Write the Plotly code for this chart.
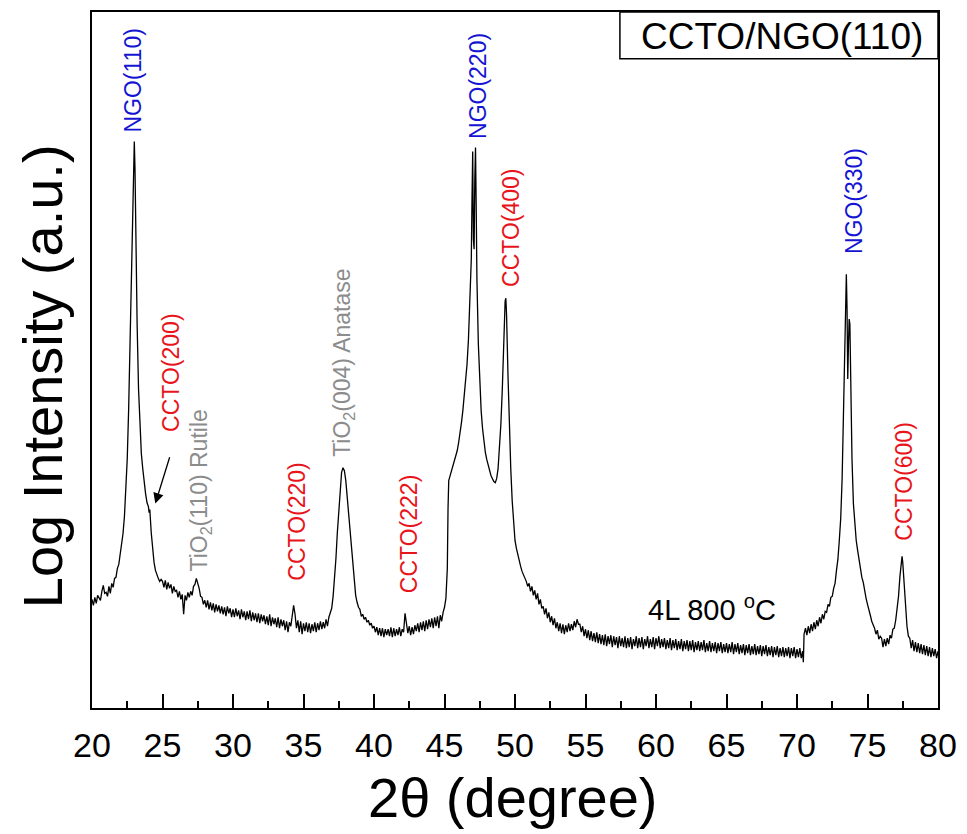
import plotly.graph_objects as go

# ---------------- data ----------------
two_theta = [
    20.0, 20.1, 20.2, 20.3, 20.4, 20.5, 20.6, 20.7, 20.8, 20.9,
    21.0, 21.1, 21.2, 21.3, 21.4, 21.5, 21.6, 21.7, 21.8, 21.9,
    22.0, 22.1, 22.2, 22.3, 22.4, 22.5, 22.6, 22.7, 22.8, 22.9,
    22.95, 23.0, 23.05,
    23.1, 23.2, 23.3, 23.4, 23.5, 23.6, 23.7, 23.8, 23.9,
    24.0, 24.05, 24.1, 24.2, 24.3, 24.4, 24.5, 24.6, 24.7, 24.8, 24.9,
    25.0, 25.1, 25.2, 25.3, 25.4, 25.5, 25.6, 25.7, 25.8, 25.9,
    26.0, 26.1, 26.2, 26.3, 26.4, 26.5, 26.6, 26.7, 26.8, 26.9,
    27.0, 27.1, 27.2, 27.3, 27.4, 27.5, 27.6, 27.7, 27.8, 27.9,
    28.0, 28.1, 28.2, 28.3, 28.4, 28.5, 28.6, 28.7, 28.8, 28.9,
    29.0, 29.1, 29.2, 29.3, 29.4, 29.5, 29.6, 29.7, 29.8, 29.9,
    30.0, 30.1, 30.2, 30.3, 30.4, 30.5, 30.6, 30.7, 30.8, 30.9,
    31.0, 31.1, 31.2, 31.3, 31.4, 31.5, 31.6, 31.7, 31.8, 31.9,
    32.0, 32.1, 32.2, 32.3, 32.4, 32.5, 32.6, 32.7, 32.8, 32.9,
    33.0, 33.1, 33.2, 33.3, 33.4, 33.5, 33.6, 33.7, 33.8, 33.9,
    34.0, 34.1, 34.2, 34.3, 34.4, 34.5, 34.6, 34.7, 34.8, 34.9,
    35.0, 35.1, 35.2, 35.3, 35.4, 35.5, 35.6, 35.7, 35.8, 35.9,
    36.0, 36.1, 36.2, 36.3, 36.4, 36.5, 36.6, 36.7, 36.8, 36.9,
    37.0, 37.1, 37.2, 37.3, 37.4, 37.5, 37.6, 37.7, 37.8, 37.9,
    38.0, 38.1, 38.2, 38.3, 38.4, 38.5, 38.6, 38.7, 38.8, 38.9,
    39.0, 39.1, 39.2, 39.3, 39.4, 39.5, 39.6, 39.7, 39.8, 39.9,
    40.0, 40.1, 40.2, 40.3, 40.4, 40.5, 40.6, 40.7, 40.8, 40.9,
    41.0, 41.1, 41.2, 41.3, 41.4, 41.5, 41.6, 41.7, 41.8, 41.9,
    42.0, 42.1, 42.2, 42.3, 42.4, 42.5, 42.6, 42.7, 42.8, 42.9,
    43.0, 43.1, 43.2, 43.3, 43.4, 43.5, 43.6, 43.7, 43.8, 43.9,
    44.0, 44.1, 44.2, 44.3, 44.4, 44.5, 44.6, 44.7, 44.8, 44.9,
    45.0, 45.1, 45.2, 45.25, 45.3, 45.4, 45.5, 45.6, 45.7, 45.8, 45.9,
    46.0, 46.1, 46.2, 46.3, 46.4, 46.5, 46.6, 46.7, 46.8, 46.9,
    46.95, 47.0, 47.05, 47.1, 47.15, 47.2, 47.25, 47.3, 47.4, 47.5, 47.6, 47.7, 47.8, 47.9,
    48.0, 48.1, 48.2, 48.3, 48.4, 48.5, 48.6, 48.7, 48.8, 48.9,
    49.0, 49.1, 49.2, 49.3, 49.35, 49.4, 49.5, 49.6, 49.7, 49.8, 49.9,
    50.0, 50.1, 50.2, 50.3, 50.4, 50.5, 50.6, 50.7, 50.8, 50.9,
    51.0, 51.1, 51.2, 51.3, 51.4, 51.5, 51.6, 51.7, 51.8, 51.9,
    52.0, 52.1, 52.2, 52.3, 52.4, 52.5, 52.6, 52.7, 52.8, 52.9,
    53.0, 53.1, 53.2, 53.3, 53.4, 53.5, 53.6, 53.7, 53.8, 53.9,
    54.0, 54.1, 54.2, 54.3, 54.4, 54.5, 54.6, 54.7, 54.8, 54.9,
    55.0, 55.1, 55.2, 55.3, 55.4, 55.5, 55.6, 55.7, 55.8, 55.9,
    56.0, 56.1, 56.2, 56.3, 56.4, 56.5, 56.6, 56.7, 56.8, 56.9,
    57.0, 57.1, 57.2, 57.3, 57.4, 57.5, 57.6, 57.7, 57.8, 57.9,
    58.0, 58.1, 58.2, 58.3, 58.4, 58.5, 58.6, 58.7, 58.8, 58.9,
    59.0, 59.1, 59.2, 59.3, 59.4, 59.5, 59.6, 59.7, 59.8, 59.9,
    60.0, 60.1, 60.2, 60.3, 60.4, 60.5, 60.6, 60.7, 60.8, 60.9,
    61.0, 61.1, 61.2, 61.3, 61.4, 61.5, 61.6, 61.7, 61.8, 61.9,
    62.0, 62.1, 62.2, 62.3, 62.4, 62.5, 62.6, 62.7, 62.8, 62.9,
    63.0, 63.1, 63.2, 63.3, 63.4, 63.5, 63.6, 63.7, 63.8, 63.9,
    64.0, 64.1, 64.2, 64.3, 64.4, 64.5, 64.6, 64.7, 64.8, 64.9,
    65.0, 65.1, 65.2, 65.3, 65.4, 65.5, 65.6, 65.7, 65.8, 65.9,
    66.0, 66.1, 66.2, 66.3, 66.4, 66.5, 66.6, 66.7, 66.8, 66.9,
    67.0, 67.1, 67.2, 67.3, 67.4, 67.5, 67.6, 67.7, 67.8, 67.9,
    68.0, 68.1, 68.2, 68.3, 68.4, 68.5, 68.6, 68.7, 68.8, 68.9,
    69.0, 69.1, 69.2, 69.3, 69.4, 69.5, 69.6, 69.7, 69.8, 69.9,
    70.0, 70.1, 70.2, 70.3, 70.4, 70.45, 70.5, 70.6, 70.7, 70.8, 70.9,
    71.0, 71.1, 71.2, 71.3, 71.4, 71.5, 71.6, 71.7, 71.8, 71.9,
    72.0, 72.1, 72.2, 72.3, 72.4, 72.5, 72.6, 72.7, 72.8, 72.9,
    73.0, 73.1, 73.2, 73.3, 73.4, 73.45, 73.5, 73.55, 73.6, 73.65, 73.7, 73.75, 73.8, 73.9,
    74.0, 74.1, 74.2, 74.3, 74.4, 74.5, 74.6, 74.7, 74.8, 74.9,
    75.0, 75.1, 75.2, 75.3, 75.4, 75.5, 75.6, 75.7, 75.8, 75.9,
    76.0, 76.1, 76.2, 76.3, 76.4, 76.5, 76.6, 76.7, 76.8, 76.9,
    77.0, 77.1, 77.2, 77.3, 77.4, 77.45, 77.5, 77.6, 77.7, 77.8,
    77.9, 78.0, 78.1, 78.2, 78.3, 78.4, 78.5, 78.6, 78.7, 78.8, 78.9,
    79.0, 79.1, 79.2, 79.3, 79.4, 79.5, 79.6, 79.7, 79.8, 79.9, 80.0,
]

log_intensity = [
    109, 103, 111, 105, 113, 111, 108, 117, 123, 115,
    116, 112, 122, 115, 125, 121, 130, 131, 140, 144,
    153, 163, 175, 192, 215, 250, 300, 370, 450, 520,
    550, 568, 540,
    480, 385, 320, 278, 255, 240, 226, 215, 206,
    202, 196, 199, 176, 158, 146, 138, 133, 130, 127, 129,
    127, 121, 128, 119, 126, 120, 124, 115, 122, 117,
    118, 111, 117, 109, 114, 94, 113, 108, 116, 111,
    117, 113, 122, 124, 130, 125, 120, 112, 111, 104,
    108, 101, 108, 99, 106, 98, 105, 96, 104, 97,
    103, 95, 102, 94, 101, 92, 102, 95, 100, 91,
    99, 91, 100, 92, 98, 89, 99, 91, 97, 88,
    97, 89, 98, 87, 96, 88, 95, 86, 95, 85,
    94, 87, 93, 84, 92, 83, 94, 82, 91, 84,
    90, 81, 91, 80, 89, 82, 88, 78, 87, 76,
    86, 82, 93, 103, 94, 80, 88, 76, 87, 74,
    85, 77, 86, 76, 85, 75, 84, 77, 86, 76,
    85, 78, 87, 79, 86, 80, 89, 82, 91, 95,
    100, 112, 128, 150, 176, 200, 222, 236, 241, 238,
    228, 212, 193, 172, 160, 142, 125, 113, 106, 101,
    99, 92, 94, 89, 91, 86, 88, 83, 85, 80,
    82, 76, 81, 73, 80, 72, 80, 71, 79, 73,
    79, 72, 81, 71, 80, 72, 79, 73, 81, 72,
    79, 76, 95, 83, 75, 82, 73, 81, 74, 83,
    77, 85, 76, 86, 78, 87, 77, 88, 79, 89,
    81, 90, 80, 91, 82, 92, 80, 93, 87, 96,
    101, 110, 140, 200, 228, 233, 238, 242, 246, 251, 258,
    266, 275, 286, 298, 312, 328, 345, 370, 405, 450,
    510, 558, 470, 460, 530, 562, 500, 430, 365, 325, 298, 280, 266, 256,
    249, 243, 238, 233, 230, 227, 226, 230, 240, 258,
    285, 320, 370, 408, 411, 395, 335, 280, 240, 208, 185,
    168, 160, 153, 146, 142, 137, 134, 130, 127, 122,
    125, 117, 122, 113, 118, 109, 115, 104, 109, 100,
    102, 94, 100, 90, 96, 86, 92, 83, 90, 80,
    86, 77, 85, 75, 84, 74, 83, 76, 85, 77,
    84, 78, 87, 81, 89, 84, 84, 76, 82, 72,
    79, 70, 78, 68, 77, 67, 75, 66, 76, 65,
    74, 64, 73, 63, 74, 62, 72, 64, 73, 61,
    72, 63, 71, 60, 72, 62, 70, 61, 72, 60,
    70, 61, 71, 59, 69, 62, 72, 60, 70, 61,
    71, 59, 69, 62, 72, 60, 69, 61, 71, 59,
    70, 62, 72, 60, 69, 61, 70, 59, 68, 60,
    70, 58, 68, 60, 69, 58, 67, 59, 69, 57,
    67, 59, 68, 57, 67, 58, 68, 56, 66, 58,
    67, 57, 66, 58, 68, 56, 65, 57, 67, 56,
    65, 57, 66, 55, 65, 57, 66, 55, 64, 56,
    65, 55, 64, 56, 66, 54, 64, 56, 65, 54,
    63, 55, 64, 53, 63, 55, 64, 53, 62, 54,
    64, 53, 62, 54, 63, 52, 62, 54, 63, 52,
    61, 53, 62, 51, 61, 53, 62, 51, 60, 52,
    61, 51, 60, 52, 61, 50, 60, 52, 61, 50,
    59, 51, 60, 50, 57, 46, 74, 80, 73, 82, 75,
    84, 77, 86, 79, 88, 82, 91, 85, 94, 89,
    97, 96, 104, 102, 111, 112, 120, 125, 138, 149,
    168, 190, 230, 300, 380, 420, 435, 400, 330, 365, 390, 385, 320, 250,
    205, 182, 168, 158, 148, 139, 131, 126, 117, 110,
    104, 97, 93, 87, 84, 80, 74, 78, 69, 72,
    70, 61, 69, 62, 70, 64, 73, 70, 79, 80,
    88, 98, 112, 132, 148, 152, 146, 124, 100, 82,
    72, 70, 60, 68, 57, 66, 56, 65, 55, 64, 54,
    63, 53, 62, 52, 61, 51, 60, 52, 59, 50, 57,
]

x_ticks = [20, 25, 30, 35, 40, 45, 50, 55, 60, 65, 70, 75, 80]

peak_labels = ["NGO(110)", "CCTO(200)", "TiO<sub>2</sub>(110) Rutile", "CCTO(220)",
               "TiO<sub>2</sub>(004) Anatase", "CCTO(222)", "NGO(220)", "CCTO(400)",
               "NGO(330)", "CCTO(600)"]
label_x = [22.9, 25.61, 27.67, 34.56, 37.88, 42.47, 47.33, 49.70, 74.03, 77.6]
label_y = [575, 275, 135, 126, 250, 113, 569, 420, 453, 166]
label_kind = ["NGO", "CCTO", "TiO2", "CCTO", "TiO2", "CCTO", "NGO", "CCTO", "NGO", "CCTO"]

kind_color = {"NGO": "#1414d2", "CCTO": "#e8141c", "TiO2": "#8c8c8c"}
FONT = "Liberation Sans, Arial, sans-serif"

fig = go.Figure()
fig.add_trace(go.Scatter(x=two_theta, y=log_intensity, mode="lines",
                         line=dict(color="black", width=1.3), showlegend=False))

annotations = []
for txt, lx, ly, kd in zip(peak_labels, label_x, label_y, label_kind):
    annotations.append(dict(x=lx, y=ly, xref="x", yref="y", text=txt, showarrow=False,
                            textangle=-90, xanchor="center", yanchor="bottom",
                            font=dict(family=FONT, size=23, color=kind_color[kd])))

# arrow to CCTO(200) shoulder
annotations.append(dict(x=24.49, y=205, xref="x", yref="y", ax=25.54, ay=253,
                        axref="x", ayref="y", text="", showarrow=True,
                        arrowhead=2, arrowsize=1.6, arrowwidth=1.3, arrowcolor="black"))

# sample label
annotations.append(dict(x=63.98, y=100, xref="x", yref="y", text="4L 800 <sup>o</sup>C",
                        showarrow=False, xanchor="center", yanchor="middle",
                        font=dict(family=FONT, size=29, color="black")))

# title box text
annotations.append(dict(x=0.8155, y=0.965, xref="paper", yref="paper", text="CCTO/NGO(110)",
                        showarrow=False, xanchor="center", yanchor="middle",
                        font=dict(family=FONT, size=37, color="black")))

# axis titles
annotations.append(dict(x=-0.0588, y=0.477, xref="paper", yref="paper",
                        text="Log Intensity (a.u.)", showarrow=False, textangle=-90,
                        xanchor="center", yanchor="middle",
                        font=dict(family=FONT, size=56, color="black")))
annotations.append(dict(x=0.498, y=-0.128, xref="paper", yref="paper",
                        text="2\u03b8 (degree)", showarrow=False,
                        xanchor="center", yanchor="middle",
                        font=dict(family=FONT, size=56, color="black")))

fig.update_layout(
    width=967, height=834,
    margin=dict(l=92, r=24, t=10, b=126),
    paper_bgcolor="white", plot_bgcolor="white",
    annotations=annotations,
    shapes=[dict(type="rect", xref="paper", yref="paper", x0=0.624, x1=1.0, y0=0.9327, y1=1.0,
                 line=dict(color="black", width=1.5), fillcolor="white", layer="above")],
    xaxis=dict(range=[20, 80], tickvals=x_ticks, ticktext=[str(t) for t in x_ticks],
               ticks="inside", ticklen=14, tickwidth=2, tickcolor="black",
               minor=dict(dtick=2.5, tick0=20, ticks="inside", ticklen=7, tickwidth=2,
                          tickcolor="black"),
               showline=True, linecolor="black", linewidth=2, mirror=True,
               showgrid=False, zeroline=False,
               tickfont=dict(family=FONT, size=34, color="black"), ticklabelstandoff=6),
    yaxis=dict(range=[0, 698], showticklabels=False, ticks="",
               showline=True, linecolor="black", linewidth=2, mirror=True,
               showgrid=False, zeroline=False),
)

fig.write_html("out.html")
